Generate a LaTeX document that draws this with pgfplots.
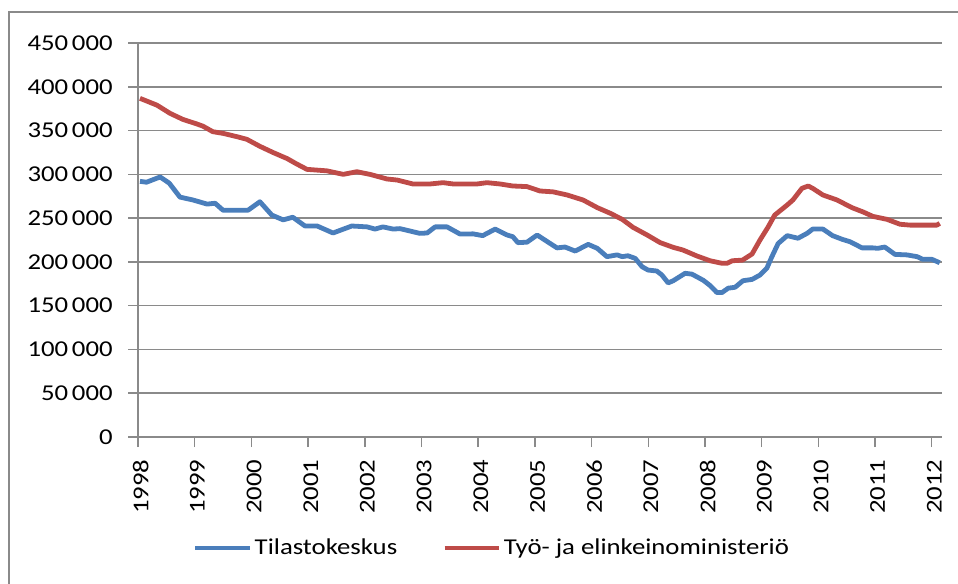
\documentclass[border=0pt]{standalone}
\usepackage{fontspec}
\setmainfont{Carlito}[FakeStretch=1.18]
\usepackage{pgfplots}
\pgfplotsset{compat=1.18}
\definecolor{sblue}{HTML}{4A7EBB}
\definecolor{sred}{HTML}{BE4B48}
\definecolor{gridg}{HTML}{8A8A8A}
\begin{document}
\begin{tikzpicture}
\useasboundingbox (0,0) rectangle (718.5pt,-437.25pt);
\draw[line width=1.5pt, color=gridg] (6.4pt,-445pt) -- (6.4pt,-9.25pt) -- (725pt,-9.25pt);
\begin{axis}[
  at={(103.5pt,-327.75pt)}, anchor=south west,
  scale only axis, width=603pt, height=295.5pt,
  xmin=1998, xmax=2012.18, ymin=0, ymax=450000,
  axis x line*=bottom, axis y line*=left,
  axis line style={line width=1.1pt, color=gridg, -},
  xtick={1998,1999,...,2012},
  ytick={0,50000,...,450000},
  scaled y ticks=false,
  tick align=outside, major tick length=7.5pt,
  tick style={line width=1.1pt, color=gridg},
  ymajorgrids, grid style={line width=1.1pt, color=gridg},
  font=\fontsize{17}{20}\selectfont,
  /pgf/number format/assume math mode=true,
  yticklabel style={xshift=-8pt, /pgf/number format/.cd, fixed, 1000 sep={\,}},
  xticklabel style={yshift=-6pt, xshift=2pt, rotate=90, anchor=east, /pgf/number format/.cd, 1000 sep={}},
  legend style={at={(0.441,-0.2817)}, anchor=center, draw=none, fill=none,
    legend columns=2, font=\fontsize{17}{20}\selectfont,
    /tikz/every even column/.append style={column sep=32pt}},
  legend image code/.code={\draw[line width=3pt] (0pt,0pt) -- (41pt,0pt);},
  clip=false,
]
\addplot[sblue, line width=3.6pt, line join=round] coordinates {
(1998.035,292000) (1998.15,291000) (1998.39,297000) (1998.55,290000) (1998.74,274000)
(1998.97,270700) (1999.22,266000) (1999.36,267000) (1999.5,259000) (1999.94,259000)
(2000.15,268700) (2000.36,253500) (2000.56,248000) (2000.73,251000) (2000.945,241000)
(2001.16,241000) (2001.44,233000) (2001.77,241000) (2002.04,240000) (2002.18,237500)
(2002.32,240000) (2002.5,237500) (2002.62,238000) (2002.97,232600) (2003.1,233000)
(2003.24,240000) (2003.45,240000) (2003.68,231800) (2003.91,232000) (2004.08,230000)
(2004.30,237500) (2004.51,230700) (2004.61,228800) (2004.70,222000) (2004.86,222500)
(2005.04,230700) (2005.27,221000) (2005.39,216000) (2005.53,217000) (2005.71,212400)
(2005.94,220000) (2006.10,215500) (2006.27,206000) (2006.45,208000) (2006.54,206000)
(2006.64,207000) (2006.77,204000) (2006.89,194500) (2006.995,190700) (2007.15,189600)
(2007.24,185000) (2007.35,176000) (2007.44,178500) (2007.65,187000) (2007.77,186000)
(2007.97,179000) (2008.09,173000) (2008.21,165000) (2008.30,165000) (2008.41,170000)
(2008.53,171000) (2008.67,178500) (2008.83,180000) (2008.97,185000) (2009.09,192700)
(2009.18,206000) (2009.29,221000) (2009.45,230000) (2009.64,227000) (2009.80,232600)
(2009.90,237500) (2010.08,237500) (2010.25,230000) (2010.42,225800) (2010.56,223000)
(2010.77,216000) (2010.96,216000) (2011.05,215500) (2011.17,217000) (2011.35,208600)
(2011.56,208000) (2011.74,206000) (2011.84,203000) (2012.00,203000) (2012.14,199000)
};
\addlegendentry{Tilastokeskus}
\addplot[sred, line width=3.6pt, line join=round] coordinates {
(1998.035,386800) (1998.335,379000) (1998.564,369700) (1998.79,362800) (1999.04,357500)
(1999.146,355000) (1999.32,348700) (1999.5,346800) (1999.746,343000) (1999.92,340000)
(2000.15,332000) (2000.38,325000) (2000.63,318000) (2000.80,311800) (2000.98,305700)
(2001.33,304000) (2001.62,300000) (2001.86,303000) (2002.09,300000) (2002.39,294700)
(2002.57,293500) (2002.85,289000) (2003.15,289000) (2003.38,290500) (2003.56,289000)
(2003.98,289000) (2004.155,290500) (2004.385,289000) (2004.61,286700) (2004.86,286000)
(2005.09,281000) (2005.32,280000) (2005.57,276400) (2005.85,270700) (2006.10,262000)
(2006.33,255500) (2006.54,248600) (2006.73,239500) (2006.98,230700) (2007.21,222000)
(2007.44,216600) (2007.61,213600) (2007.86,206700) (2008.09,201300) (2008.30,198400)
(2008.39,198400) (2008.48,201300) (2008.66,202000) (2008.83,209000) (2008.97,225000)
(2009.11,239500) (2009.23,253500) (2009.45,265000) (2009.55,270700) (2009.71,284000)
(2009.82,286700) (2009.90,284000) (2010.08,276400) (2010.33,270700) (2010.59,262000)
(2010.79,257000) (2010.96,252000) (2011.21,248600) (2011.44,243000) (2011.62,242000)
(2012.09,242000) (2012.14,244000)
};
\addlegendentry{Työ- ja elinkeinoministeriö}
\end{axis}
\end{tikzpicture}
\end{document}
